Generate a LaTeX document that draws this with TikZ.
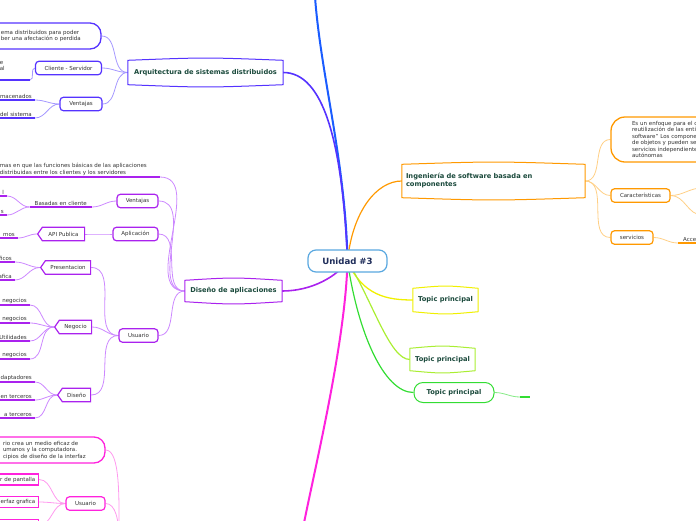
\documentclass[tikz,border=0pt]{standalone}
\usepackage{fontspec}
\setmainfont{DejaVu Sans}
\usepackage{xcolor}
\usepackage{tikz}
\usetikzlibrary{shapes.symbols, backgrounds, positioning}
\definecolor{txtgray}{HTML}{333333}
\definecolor{topictxt}{HTML}{1B4A3C}
\definecolor{roottxt}{HTML}{1F2D5A}
\definecolor{rootline}{HTML}{5AA8E0}
\definecolor{azul}{HTML}{1A5CFF}
\definecolor{arqline}{HTML}{5533FF}
\definecolor{arqsoft}{HTML}{A598FF}
\definecolor{naranja}{HTML}{FF9900}
\definecolor{naranjasoft}{HTML}{FFCF85}
\definecolor{morado}{HTML}{AA22EE}
\definecolor{moradosoft}{HTML}{CC88FF}
\definecolor{magentabr}{HTML}{FF22DD}
\definecolor{magentasoft}{HTML}{FF99EE}
\definecolor{amarillo}{HTML}{F0F000}
\definecolor{limon}{HTML}{AAEE33}
\definecolor{verde}{HTML}{33DD33}
\newcommand{\txtfont}{\fontsize{5.5}{6.5}\selectfont}
\newcommand{\barrel}[2]{%
  \filldraw[fill=white, draw=#2, line width=1pt]
    (#1.north west) .. controls ([yshift=3pt]#1.north) .. (#1.north east)
    -- (#1.south east) .. controls ([yshift=-3pt]#1.south) .. (#1.south west) -- cycle;}

\begin{document}
\begin{tikzpicture}[x=1pt, y=-1pt,
  rootbox/.style={draw=rootline, line width=1.2pt, rounded corners=8pt, fill=white,
    text=roottxt, font=\fontsize{8.6}{10}\selectfont\bfseries,
    minimum width=79pt, minimum height=22pt},
  topic/.style={text=topictxt, font=\fontsize{6.7}{8}\selectfont\bfseries, inner sep=0pt},
  subbox/.style={draw=#1, line width=1.2pt, rounded corners=3.5pt, fill=white,
    text=txtgray, font=\txtfont, inner sep=0pt, minimum height=13.5pt},
  tagbox/.style={signal, signal to=west, signal pointer angle=110, draw=#1,
    line width=1.2pt, fill=white, text=txtgray, font=\txtfont, inner sep=0pt,
    minimum height=13.5pt},
  rectbox/.style={draw=#1, line width=1.3pt, fill=white, text=txtgray, font=\txtfont,
    minimum height=11pt, inner xsep=3pt, inner ysep=0pt, align=right},
  notebox/.style={draw=#1, line width=1.3pt, rounded corners=11pt, fill=white,
    text=txtgray, font=\txtfont, align=left, inner ysep=0pt},
  leafbar/.style={text=txtgray, font=\txtfont, inner xsep=3pt, inner ysep=1.5pt,
    append after command={(\tikzlastnode.south west) edge[draw=#1, line width=1.5pt]
      (\tikzlastnode.south east)}},
  link/.style={draw=#1, line width=0.8pt},
  branch/.style={draw=#1, line width=1.6pt}]

  \useasboundingbox (0,0) rectangle (696,520);
  \clip (0,0) rectangle (696,520);

  % centro
  \node[rootbox] (root) at (347.5,261) {Unidad \#3};

  % temas principales
  \node[topic, minimum width=155pt, minimum height=24pt] (arq) at (205.5,72.5)
    {Arquitectura de sistemas distribuidos};
  \node[topic, minimum width=183pt, minimum height=33pt, text width=175pt, align=left]
    (ing) at (493.5,181) {Ingeniería de software basada en\\componentes};
  \node[topic, minimum width=97pt, minimum height=21pt] (dis) at (233.5,291)
    {Diseño de aplicaciones};
  \node[topic, minimum width=65pt, minimum height=23pt] (tp1) at (445.5,300) {Topic principal};
  \node[topic, minimum width=65pt, minimum height=22pt] (tp2) at (442.5,359.5) {Topic principal};
  \node[topic, draw=verde, line width=1pt, rounded corners=9pt, fill=white,
    minimum width=80pt, minimum height=20pt] (tp3) at (454,392.5) {Topic principal};

  % arquitectura
  \node[notebox=arqline, minimum width=116pt, minimum height=26pt, inner xsep=16pt,
    text width=84pt] (arqnote) at (43,36)
    {ema distribuidos para poder\\ber una afectación o perdida};
  \node[subbox=arqline, minimum width=66pt] (cs) at (68.5,68) {Cliente - Servidor};
  \node[subbox=arqline, minimum width=42pt] (arqv) at (81,104) {Ventajas};
  \node[leafbar=arqline, anchor=south east, text width=27pt, align=left, inner ysep=9pt]
    (csleaf) at (30,80) {e\\al};
  \node[leafbar=arqline, anchor=south east, text width=32pt, align=right] (av1) at (35,100) {macenados};
  \node[leafbar=arqline, anchor=south east, text width=32pt, align=right] (av2) at (35,118) {del sistema};

  % diseño de aplicaciones
  \node[leafbar=morado, anchor=south east, text width=157pt, align=left] (distxt) at (160,177)
    {mas en que las funciones básicas de las aplicaciones\\distribuidas entre los clientes y los servidores};
  \node[subbox=morado, minimum width=41pt] (dven) at (137.5,201) {Ventajas};
  \node[subbox=morado, minimum width=45pt] (dapp) at (135.5,234) {Aplicación};
  \node[subbox=morado, minimum width=39pt] (dusr) at (138.5,335.5) {Usuario};
  \node[leafbar=morado, anchor=south east, text width=56pt, align=center] (basadas) at (92,207)
    {Basadas en cliente};
  \node[leafbar=morado, anchor=south east, text width=10pt, align=right] (bl1) at (7,196) {l};
  \node[leafbar=morado, anchor=south east, text width=10pt, align=right] (bl2) at (7,215) {s};
  \node[tagbox=morado, minimum width=47pt] (api) at (63.5,234) {API Publica};
  \node[leafbar=morado, anchor=south east, text width=20pt, align=right] (apil) at (18,238) {mos};
  \node[tagbox=morado, minimum width=50pt] (pres) at (68,267.5) {Presentacion};
  \node[leafbar=morado, anchor=south east, text width=20pt, align=right] (pl1) at (15,262) {ficos};
  \node[leafbar=morado, anchor=south east, text width=20pt, align=right] (pl2) at (15,280) {afica};
  \node[tagbox=morado, minimum width=37pt] (neg) at (75.5,327) {Negocio};
  \node[leafbar=morado, anchor=south east, text width=30pt, align=right] (nl1) at (30,305) {negocios};
  \node[leafbar=morado, anchor=south east, text width=30pt, align=right] (nl2) at (30,323) {negocios};
  \node[leafbar=morado, anchor=south east, text width=30pt, align=right] (nl3) at (30,341) {Utilidades};
  \node[leafbar=morado, anchor=south east, text width=30pt, align=right] (nl4) at (30,359) {negocios};
  \node[tagbox=morado, minimum width=33pt] (dsn) at (76.5,395) {Diseño};
  \node[leafbar=morado, anchor=south east, text width=35pt, align=right] (dl1) at (35,382) {daptadores};
  \node[leafbar=morado, anchor=south east, text width=35pt, align=right] (dl2) at (35,400) {en terceros};
  \node[leafbar=morado, anchor=south east, text width=35pt, align=right] (dl3) at (35,418) {a terceros};

  % rama magenta
  \node[notebox=magentabr, minimum width=120pt, minimum height=26pt, inner xsep=18pt,
    text width=84pt] (magnote) at (45,450)
    {rio crea un medio eficaz de\\umanos y la computadora.\\cipios de diseño de la interfaz};
  \node[subbox=magentabr, minimum width=39pt] (musr) at (85.5,503.5) {Usuario};
  \node[rectbox=magentabr, anchor=east, text width=48pt] (mb1) at (39,479.5) {r de pantalla};
  \node[rectbox=magentabr, anchor=east, text width=48pt] (mb2) at (39,502) {erfaz grafica};
  \node[rectbox=magentabr, anchor=north east, text width=48pt] (mb3) at (39,519) {};
  \coordinate (magtopic) at (119,540);

  % ingenieria
  \node[notebox=naranja, rounded corners=14pt, minimum width=169pt, minimum height=45pt,
    inner xsep=21pt, text width=127pt] (ingnote) at (695.5,139.5)
    {Es un enfoque para el c\\reutilización de las enti\\software” Los componen\\de objetos y pueden se\\servicios independiente\\autónomas};
  \node[subbox=naranja, minimum width=59pt] (car) at (640.5,195.5) {Características};
  \node[subbox=naranja, minimum width=42pt] (serv) at (632,237.5) {servicios};
  \node[leafbar=naranja, anchor=south west, text width=40pt, align=left, inner xsep=5pt]
    (acce) at (678,243) {Acce};
  \coordinate (car1) at (702,188);
  \coordinate (car2) at (702,215);

  % cola verde
  \node[leafbar=verde, anchor=south west, minimum width=10pt, inner sep=0pt] (tp3leaf) at (520,397) {};

  \coordinate (azultop) at (315,-3);
  \coordinate (magbottom) at (304,523);

  \begin{scope}[on background layer]
    % ramas del centro
    \draw[branch=azul, line width=2pt] (root.center) .. controls +(-2,-100) and +(6,80) .. (azultop);
    \draw[branch=arqline] (root.center) .. controls +(-5,-120) and +(40,0) .. (arq.east);
    \draw[branch=naranja, line width=1.2pt] (root.center) .. controls +(5,-50) and +(-25,0) .. (ing.west);
    \draw[branch=morado] (root.center) .. controls +(-10,15) and +(30,0) .. (dis.east);
    \draw[branch=magentabr, line width=2pt] (root.center) .. controls +(-2,80) and +(12,-60) .. (magbottom);
    \draw[branch=amarillo, line width=1.3pt] (root.center) .. controls +(15,35) and +(-25,0) .. (tp1.west);
    \draw[branch=limon, line width=1.2pt] (root.center) .. controls +(25,40) and +(-20,0) .. (tp2.west);
    \draw[branch=verde, line width=1.2pt] (root.center) .. controls +(10,70) and +(-30,0) .. (tp3.west);

    % hijos
    \foreach \a/\b in {arqnote.east/arq.west, cs.east/arq.west, arqv.east/arq.west,
        csleaf.south east/cs.west, av1.south east/arqv.west, av2.south east/arqv.west}
      \draw[link=arqsoft] (\a) to[out=0,in=180] (\b);
    \foreach \a/\b in {distxt.south east/dis.west, dven.east/dis.west, dapp.east/dis.west,
        dusr.east/dis.west, basadas.south east/dven.west, bl1.south east/basadas.south west,
        bl2.south east/basadas.south west, api.east/dapp.west, apil.south east/api.west,
        pres.east/dusr.west, neg.east/dusr.west, dsn.east/dusr.west,
        pl1.south east/pres.west, pl2.south east/pres.west,
        nl1.south east/neg.west, nl2.south east/neg.west, nl3.south east/neg.west,
        nl4.south east/neg.west, dl1.south east/dsn.west, dl2.south east/dsn.west,
        dl3.south east/dsn.west}
      \draw[link=moradosoft] (\a) to[out=0,in=180] (\b);
    \foreach \a/\b in {ing.east/ingnote.west, ing.east/car.west, ing.east/serv.west,
        car.east/car1, car.east/car2, serv.east/acce.south west}
      \draw[link=naranjasoft] (\a) to[out=0,in=180] (\b);
    \foreach \a/\b in {mb1.east/musr.west, mb2.east/musr.west, mb3.east/musr.west}
      \draw[link=magentasoft] (\a) to[out=0,in=180] (\b);
    \draw[link=magentasoft] (magnote.east) .. controls +(15,0) and +(0,-40) .. (magtopic);
    \draw[link=magentasoft] (musr.east) .. controls +(10,0) and +(0,-20) .. (magtopic);
    \draw[link=verde!60] (tp3.east) to[out=0,in=180] (tp3leaf.south west);

    % cajas de los temas
    \barrel{arq}{arqline}
    \barrel{ing}{naranja}
    \barrel{dis}{morado}
    \barrel{tp1}{amarillo}
    \barrel{tp2}{limon}
  \end{scope}
\end{tikzpicture}
\end{document}
